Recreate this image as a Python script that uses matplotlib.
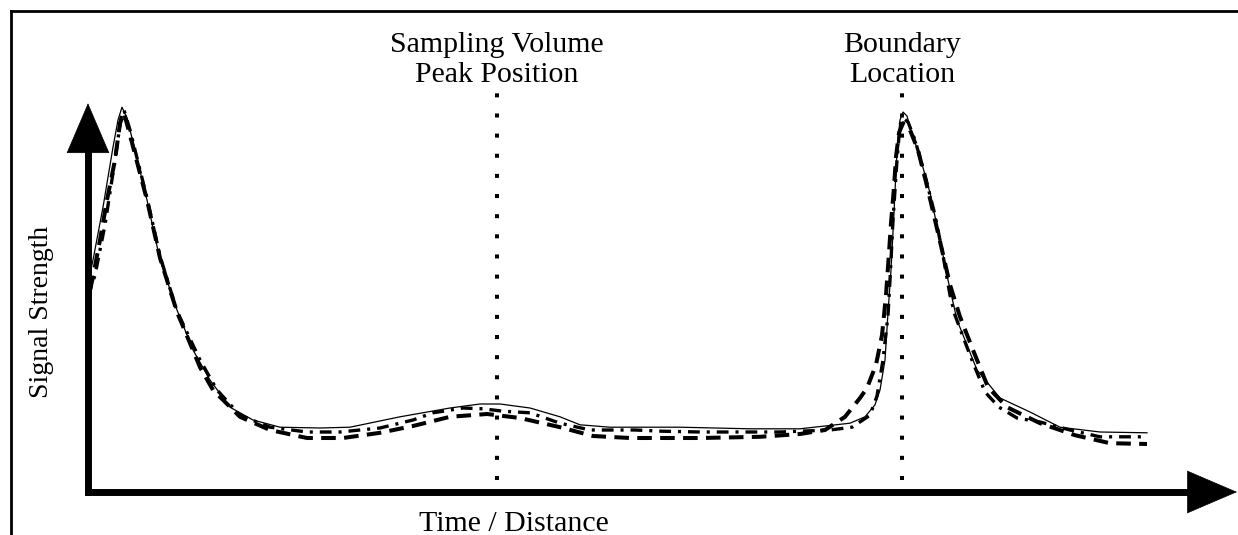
import matplotlib
matplotlib.use("Agg")
import matplotlib.pyplot as plt

plt.rcParams["font.family"] = ["Liberation Serif", "DejaVu Serif"]
plt.rcParams["lines.scale_dashes"] = False

# ── Data (arbitrary units: time 0..106, signal 0..~96) ───────────────────────

time_solid = [0.0, 0.5, 1.5, 2.5, 3.0, 3.4, 3.9, 4.7, 5.9, 7.2, 8.9, 10.5, 12.2,
              14.2, 16.5, 19.2, 23.2, 26.2, 31.2, 36.2, 39.2, 41.2, 44.2, 47.2,
              49.2, 52.2, 59.2, 66.2, 71.2, 76.2, 77.7, 78.7, 79.2, 79.7, 80.0,
              80.3, 80.6, 80.9, 81.2, 81.5, 81.9, 82.5, 83.2, 84.2, 85.2, 86.0,
              86.9, 88.9, 91.2, 94.2, 97.2, 101.2, 105.9]
signal_solid = [52.2, 58.0, 71.2, 86.2, 93.0, 96.2, 93.5, 85.5, 73.0, 58.0, 45.5,
                35.5, 28.0, 21.2, 18.0, 16.2, 16.0, 16.2, 18.8, 21.0, 22.0, 22.0,
                21.0, 18.8, 16.8, 16.2, 16.2, 15.8, 15.8, 17.2, 18.8, 21.8, 25.5,
                33.0, 44.8, 55.5, 69.8, 85.5, 93.0, 95.0, 94.0, 88.8, 83.8, 74.8,
                63.0, 53.0, 43.0, 30.5, 23.5, 20.0, 16.2, 15.0, 14.8]

time_dashed = [0.2, 0.5, 1.2, 1.9, 2.7, 3.2, 3.6, 4.2, 5.9, 7.2, 8.9, 11.2, 12.5,
               15.2, 18.2, 21.9, 25.5, 29.2, 32.5, 36.2, 39.9, 43.2, 47.2, 50.5,
               54.2, 61.2, 67.2, 71.2, 73.7, 75.7, 77.2, 77.9, 78.8, 79.4, 79.8,
               80.1, 80.3, 80.6, 80.8, 81.1, 81.5, 82.2, 83.0, 84.0, 84.7, 85.4,
               86.2, 87.2, 88.5, 90.0, 91.9, 95.2, 98.7, 102.2, 105.9]
signal_dashed = [50.5, 53.8, 63.0, 73.0, 83.0, 92.2, 94.8, 89.2, 73.0, 58.5, 45.0,
                 31.2, 25.5, 18.8, 15.5, 13.5, 13.5, 14.8, 16.5, 18.8, 19.5, 18.5,
                 16.2, 14.0, 13.5, 13.5, 13.8, 14.5, 15.5, 18.8, 23.5, 26.0, 31.8,
                 39.2, 49.2, 59.8, 67.2, 76.2, 83.8, 89.8, 92.2, 90.5, 85.5, 75.5,
                 68.0, 60.5, 51.8, 43.8, 35.5, 26.2, 21.2, 17.2, 14.2, 12.2, 12.0]

time_dashdot = [0.0, 0.7, 1.7, 2.7, 3.3, 3.6, 4.2, 5.9, 7.2, 8.9, 11.2, 12.9, 15.2,
                18.2, 21.9, 25.2, 29.2, 32.5, 34.5, 37.5, 39.5, 41.5, 44.2, 47.2,
                50.2, 54.7, 57.4, 61.2, 69.2, 74.2, 76.4, 78.2, 78.9, 79.5, 80.0,
                80.2, 80.5, 80.9, 81.2, 81.5, 82.0, 82.7, 83.7, 84.7, 85.5, 86.2,
                86.7, 88.2, 89.7, 91.1, 92.9, 95.2, 98.2, 101.2, 105.9]
signal_dashdot = [48.8, 54.2, 66.8, 83.0, 93.5, 95.5, 90.5, 73.5, 59.0, 45.2, 33.0,
                  25.5, 19.2, 16.2, 15.0, 15.0, 16.0, 18.0, 19.8, 21.0, 20.8, 20.2,
                  19.8, 17.2, 15.5, 15.5, 15.2, 15.0, 15.0, 15.5, 16.2, 19.2, 24.0,
                  33.0, 44.2, 53.0, 68.0, 83.0, 91.8, 93.5, 92.5, 88.0, 79.2, 69.2,
                  59.2, 49.2, 44.2, 34.2, 25.0, 21.2, 18.5, 17.5, 15.5, 13.8, 13.8]

marker_times = [40.9, 81.4]
marker_labels = ["Sampling Volume\nPeak Position", "Boundary\nLocation"]
marker_span = (3.0, 100.0)

x_label = "Time / Distance"
y_label = "Signal Strength"
x_axis_end = 114.9
y_axis_end = 97.2

# ── Figure ───────────────────────────────────────────────────────────────────

fig = plt.figure(figsize=(12.38, 5.35), dpi=100)

# partial frame (only top and left edges are visible in the crop)
frame = fig.add_axes([10.5 / 1238, -0.1, 1.2, 1.1 - 10.5 / 535])
frame.set_xticks([])
frame.set_yticks([])
for side in ("right", "bottom"):
    frame.spines[side].set_visible(False)
for side in ("top", "left"):
    frame.spines[side].set_linewidth(2.0)

ax = fig.add_axes([0, 0, 1, 1])
ax.patch.set_alpha(0)
ax.set_xlim(-8.8, 115.0)
ax.set_ylim(-10.75, 123.0)
ax.axis("off")

# curves
ax.plot(time_dashed, signal_dashed, color="black", lw=2.9,
        linestyle=(0, (10.5, 6.0)), zorder=3)
ax.plot(time_dashdot, signal_dashdot, color="black", lw=2.4,
        linestyle=(0, (8.5, 5.0, 2.2, 5.0)), zorder=3)
ax.plot(time_solid, signal_solid, color="black", lw=0.9, zorder=4)

# dotted marker lines + labels
for t, lbl in zip(marker_times, marker_labels):
    ax.plot([t, t], marker_span, color="black", lw=2.9,
            linestyle=(0, (2.9, 11.6)), solid_capstyle="butt", zorder=2)
    ax.text(t, 108.0, lbl, ha="center", va="center", fontsize=21.5,
            linespacing=1.16)

# axes with arrow heads
ax.plot([0, x_axis_end - 4], [0, 0], color="black", lw=5, solid_capstyle="projecting", zorder=5)
ax.plot([0, 0], [0, y_axis_end - 10], color="black", lw=5, solid_capstyle="projecting", zorder=5)
head = dict(arrowstyle="-|>,head_length=35,head_width=15", mutation_scale=1,
            color="black", lw=0.5, shrinkA=0, shrinkB=0)
ax.annotate("", xy=(x_axis_end, 0), xytext=(x_axis_end - 10, 0), arrowprops=head, zorder=6)
ax.annotate("", xy=(0, y_axis_end), xytext=(0, y_axis_end - 20), arrowprops=head, zorder=6)

ax.text(42.6, -8.0, x_label, ha="center", va="center", fontsize=21.5)
ax.text(-4.7, 45.0, y_label, ha="center", va="center", fontsize=20, rotation=90)

fig.savefig("out.png", dpi=100)
